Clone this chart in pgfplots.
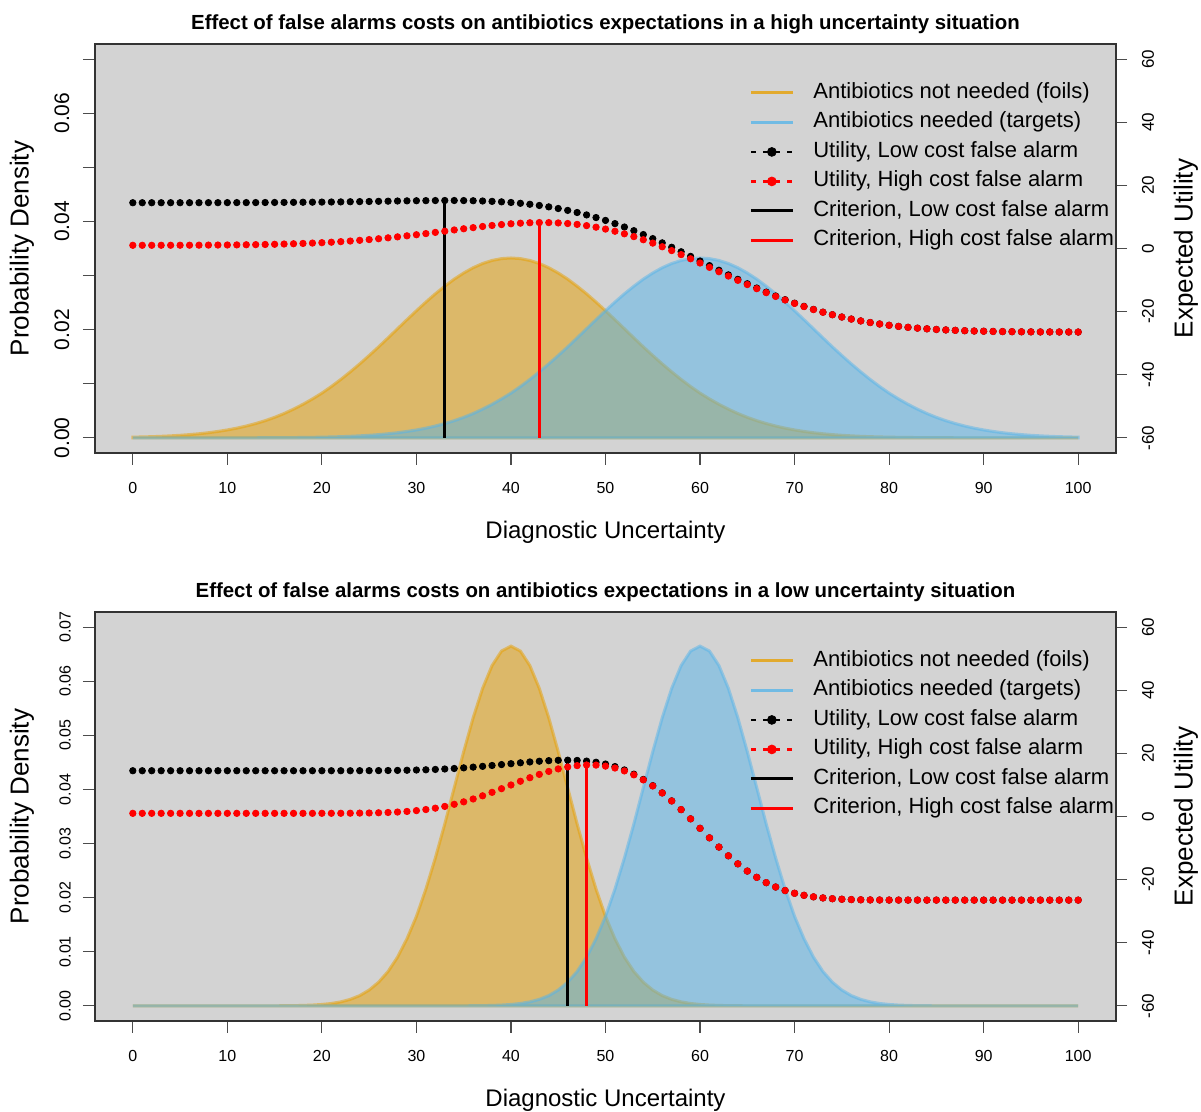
\documentclass[border=0pt]{standalone}
\usepackage{pgfplots}
\pgfplotsset{compat=1.18}
\usepackage{pgfplotstable}
\usepackage{fontspec}
\setmainfont{Liberation Sans}
\definecolor{bggray}{HTML}{D3D3D3}
\definecolor{foil}{HTML}{E69F00}
\definecolor{targ}{HTML}{56B4E9}
\definecolor{ured}{HTML}{FF0000}

% x: diagnostic uncertainty; ft/tt: densities (high uncertainty), fb/tb: densities (low uncertainty)
% rt/bt: utility high/low cost (top), rb/bb: utility high/low cost (bottom)
\pgfplotstableread{
x ft tt fb tb rt bt rb bb
0 0.000128 0 0 0 1.01 14.50 1.00 14.50
1 0.000169 0 0 0 1.01 14.50 1.00 14.50
2 0.000219 0 0 0 1.01 14.50 1.00 14.50
3 0.000284 0 0 0 1.02 14.50 1.00 14.50
4 0.000369 0 0 0 1.02 14.51 1.00 14.50
5 0.000471 0.000001 0 0 1.03 14.51 1.00 14.50
6 0.000600 0.000001 0 0 1.04 14.51 1.00 14.50
7 0.000758 0.000002 0 0 1.05 14.51 1.00 14.50
8 0.000948 0.000003 0 0 1.07 14.52 1.00 14.50
9 0.001182 0.000004 0 0 1.09 14.52 1.00 14.50
10 0.001461 0.000006 0 0 1.11 14.53 1.00 14.50
11 0.001792 0.000008 0 0 1.14 14.54 1.00 14.50
12 0.002185 0.000011 0 0 1.18 14.54 1.00 14.50
13 0.002645 0.000015 0 0 1.22 14.55 1.00 14.50
14 0.003173 0.000021 0.000005 0 1.27 14.57 1.00 14.50
15 0.003790 0.000029 0.000011 0 1.33 14.58 1.00 14.50
16 0.004499 0.000039 0.000022 0 1.41 14.60 1.00 14.50
17 0.005306 0.000054 0.000042 0 1.50 14.62 1.00 14.50
18 0.006203 0.000073 0.000080 0 1.60 14.65 1.00 14.50
19 0.007190 0.000097 0.000145 0 1.71 14.67 1.00 14.50
20 0.008268 0.000128 0.000257 0 1.84 14.70 1.01 14.50
21 0.009484 0.000169 0.000438 0 1.99 14.73 1.01 14.50
22 0.010793 0.000219 0.000738 0 2.17 14.76 1.02 14.50
23 0.012196 0.000284 0.001200 0 2.36 14.81 1.04 14.50
24 0.013668 0.000369 0.001895 0 2.58 14.85 1.07 14.52
25 0.015221 0.000471 0.002922 0 2.82 14.89 1.11 14.53
26 0.016814 0.000600 0.004370 0 3.09 14.94 1.18 14.54
27 0.018479 0.000758 0.006347 0 3.37 14.99 1.27 14.57
28 0.020164 0.000948 0.008998 0 3.68 15.04 1.41 14.60
29 0.021844 0.001182 0.012405 0 4.01 15.09 1.60 14.65
30 0.023493 0.001461 0.016537 0 4.36 15.13 1.86 14.72
31 0.025095 0.001792 0.021587 0 4.72 15.16 2.20 14.80
32 0.026621 0.002185 0.027335 0 5.10 15.19 2.64 14.91
33 0.028029 0.002645 0.033628 0 5.48 15.20 3.19 15.05
34 0.029339 0.003173 0.040328 0.000005 5.87 15.20 3.86 15.21
35 0.030473 0.003790 0.046985 0.000011 6.25 15.18 4.64 15.41
36 0.031448 0.004499 0.053242 0.000022 6.61 15.13 5.55 15.64
37 0.032223 0.005306 0.058678 0.000042 6.97 15.05 6.55 15.89
38 0.032788 0.006203 0.062897 0.000080 7.29 14.93 7.65 16.16
39 0.033130 0.007190 0.065577 0.000145 7.58 14.78 8.81 16.45
40 0.033245 0.008268 0.066490 0.000257 7.83 14.58 9.98 16.73
41 0.033130 0.009484 0.065577 0.000438 8.02 14.32 11.16 17.01
42 0.032788 0.010793 0.062897 0.000738 8.15 14.01 12.29 17.28
43 0.032223 0.012196 0.058678 0.001200 8.21 13.63 13.34 17.51
44 0.031448 0.013668 0.053242 0.001895 8.20 13.19 14.28 17.69
45 0.030473 0.015221 0.046985 0.002922 8.10 12.67 15.08 17.81
46 0.029339 0.016814 0.040328 0.004370 7.91 12.07 15.70 17.84
47 0.028029 0.018479 0.033628 0.006347 7.63 11.40 16.12 17.77
48 0.026621 0.020164 0.027335 0.008998 7.24 10.64 16.32 17.55
49 0.025095 0.021844 0.021587 0.012405 6.75 9.80 16.28 17.18
50 0.023493 0.023493 0.016537 0.016537 6.15 8.89 15.96 16.61
51 0.021844 0.025095 0.012405 0.021587 5.46 7.88 15.36 15.81
52 0.020164 0.026621 0.008998 0.027335 4.65 6.80 14.44 14.75
53 0.018479 0.028029 0.006347 0.033628 3.76 5.64 13.19 13.40
54 0.016814 0.029339 0.004370 0.040328 2.77 4.41 11.60 11.74
55 0.015221 0.030473 0.002922 0.046985 1.70 3.13 9.68 9.77
56 0.013668 0.031448 0.001895 0.053242 0.55 1.78 7.44 7.49
57 0.012196 0.032223 0.001200 0.058678 -0.67 0.39 4.92 4.95
58 0.010793 0.032788 0.000738 0.062897 -1.94 -1.04 2.17 2.18
59 0.009484 0.033130 0.000438 0.065577 -3.26 -2.50 -0.75 -0.74
60 0.008268 0.033245 0.000257 0.066490 -4.61 -3.97 -3.75 -3.75
61 0.007190 0.033130 0.000145 0.065577 -5.98 -5.44 -6.76 -6.76
62 0.006203 0.032788 0.000080 0.062897 -7.36 -6.91 -9.69 -9.69
63 0.005306 0.032223 0.000042 0.058678 -8.74 -8.36 -12.46 -12.46
64 0.004499 0.031448 0.000022 0.053242 -10.10 -9.79 -15.01 -15.01
65 0.003790 0.030473 0.000011 0.046985 -11.43 -11.18 -17.30 -17.30
66 0.003173 0.029339 0.000005 0.040328 -12.73 -12.53 -19.28 -19.28
67 0.002645 0.028029 0 0.033628 -13.99 -13.83 -20.96 -20.96
68 0.002185 0.026621 0 0.027335 -15.19 -15.05 -22.35 -22.35
69 0.001792 0.025095 0 0.021587 -16.33 -16.23 -23.46 -23.46
70 0.001461 0.023493 0 0.016537 -17.41 -17.33 -24.33 -24.33
71 0.001182 0.021844 0 0.012405 -18.41 -18.34 -24.98 -24.98
72 0.000948 0.020164 0 0.008998 -19.35 -19.30 -25.46 -25.46
73 0.000758 0.018479 0 0.006347 -20.21 -20.17 -25.81 -25.81
74 0.000600 0.016814 0 0.004370 -21.00 -20.97 -26.05 -26.05
75 0.000471 0.015221 0 0.002922 -21.73 -21.71 -26.22 -26.22
76 0.000369 0.013668 0 0.001895 -22.37 -22.36 -26.33 -26.33
77 0.000284 0.012196 0 0.001200 -22.96 -22.95 -26.40 -26.40
78 0.000219 0.010793 0 0.000738 -23.47 -23.46 -26.44 -26.44
79 0.000169 0.009484 0 0.000438 -23.93 -23.92 -26.46 -26.46
80 0.000128 0.008268 0 0.000257 -24.34 -24.33 -26.48 -26.48
81 0.000097 0.007190 0 0.000145 -24.68 -24.68 -26.49 -26.49
82 0.000073 0.006203 0 0.000080 -24.98 -24.98 -26.49 -26.49
83 0.000054 0.005306 0 0.000042 -25.24 -25.24 -26.49 -26.49
84 0.000039 0.004499 0 0.000022 -25.46 -25.46 -26.50 -26.50
85 0.000029 0.003790 0 0.000011 -25.65 -25.65 -26.50 -26.50
86 0.000021 0.003173 0 0.000005 -25.81 -25.81 -26.50 -26.50
87 0.000015 0.002645 0 0 -25.94 -25.94 -26.50 -26.50
88 0.000011 0.002185 0 0 -26.05 -26.05 -26.50 -26.50
89 0.000008 0.001792 0 0 -26.15 -26.15 -26.50 -26.50
90 0.000006 0.001461 0 0 -26.22 -26.22 -26.50 -26.50
91 0.000004 0.001182 0 0 -26.28 -26.28 -26.50 -26.50
92 0.000003 0.000948 0 0 -26.33 -26.33 -26.50 -26.50
93 0.000002 0.000758 0 0 -26.36 -26.36 -26.50 -26.50
94 0.000001 0.000600 0 0 -26.40 -26.40 -26.50 -26.50
95 0.000001 0.000471 0 0 -26.42 -26.42 -26.50 -26.50
96 0 0.000369 0 0 -26.44 -26.44 -26.50 -26.50
97 0 0.000284 0 0 -26.45 -26.45 -26.50 -26.50
98 0 0.000219 0 0 -26.46 -26.46 -26.50 -26.50
99 0 0.000169 0 0 -26.47 -26.47 -26.50 -26.50
100 0 0.000128 0 0 -26.48 -26.48 -26.50 -26.50
}\data

\pgfplotsset{
  panelbase/.style={
    scale only axis, width=510.5pt, height=204.5pt,
    xmin=-4, xmax=104, anchor=south west,
    axis line style={line width=0.6pt, draw=black!80},
    tick style={line width=0.6pt, draw=black!70},
    tick align=outside,
  },
  denaxis/.style={
    panelbase,
    axis background/.style={fill=bggray},
    ymin=-0.0028, ymax=0.0728,
    scaled y ticks=false,
    xtick pos=bottom, ytick pos=left,
    xtick={0,10,20,30,40,50,60,70,80,90,100},
    xticklabels={0,10,20,30,40,50,60,70,80,90,100},
    xticklabel style={font=\fontsize{8}{9}\selectfont, anchor=center, yshift=-11.5pt},
    major tick length=6pt,
    ytick={0,0.01,0.02,0.03,0.04,0.05,0.06,0.07},
    ylabel={Probability Density},
    ylabel style={font=\fontsize{13}{15}\selectfont, at={(axis description cs:0,0.5)}, anchor=center, yshift=36.5pt},
    xlabel={Diagnostic Uncertainty},
    xlabel style={font=\fontsize{12}{14}\selectfont, at={(axis description cs:0.5,0)}, anchor=center, yshift=-39.5pt},
    title style={font=\bfseries\fontsize{10.2}{12}\selectfont, at={(axis description cs:0.5,1)}, anchor=center, yshift=4pt},
  },
  utilaxis/.style={
    panelbase,
    ymin=-64.8, ymax=64.8,
    axis x line=none, axis y line*=right,
    ytick={-60,-40,-20,0,20,40,60},
    yticklabels={-60,-40,-20,0,20,40,60},
    yticklabel style={xshift=10.5pt, rotate=90, anchor=center, font=\fontsize{8.5}{10}\selectfont},
    major tick length=5.5pt,
    ylabel={Expected Utility},
    ylabel style={font=\fontsize{13}{15}\selectfont, at={(axis description cs:1,0.5)}, anchor=center, yshift=-35pt},
    legend cell align=left,
    legend style={at={(axis description cs:0.6405,0.907)}, anchor=north west, draw=none, fill=none,
      font=\fontsize{11}{13}\selectfont, row sep=4.25pt, inner sep=0pt,
      nodes={inner sep=0pt, text height=8pt, text depth=2.5pt},
      /tikz/every odd column/.append style={column sep=9.5pt}},
  },
  legfoil/.style={legend image code/.code={\draw[foil!78!bggray, line width=1.5pt] (0pt,0pt) -- (21pt,0pt);}},
  legtarg/.style={legend image code/.code={\draw[targ!78!bggray, line width=1.5pt] (0pt,0pt) -- (21pt,0pt);}},
  legdot/.style={legend image code/.code={
      \draw[#1, line width=1.2pt, dash pattern=on 2.6pt off 3.4pt, dash phase=-0.2pt] (0pt,0pt) -- (21pt,0pt);
      \fill[#1] (10.5pt,0pt) circle (2.2pt);}},
  legline/.style={legend image code/.code={\draw[#1, line width=1.5pt] (0pt,0pt) -- (21pt,0pt);}},
}

\begin{document}
\begin{tikzpicture}
\useasboundingbox (-47.5pt,-45.5pt) rectangle (553pt,510.5pt);

% ---------- TOP PANEL ----------
\begin{axis}[denaxis, at={(0pt,284pt)},
  yticklabels={0.00,{},0.02,{},0.04,{},0.06,{}},
  yticklabel style={xshift=-10.5pt, rotate=90, anchor=center, font=\fontsize{10.5}{12}\selectfont},
  title={Effect of false alarms costs on antibiotics expectations in a high uncertainty situation}]
\addplot[draw=foil, fill=foil, opacity=0.5, line width=1.5pt] table[x=x,y=ft]{\data} \closedcycle;
\addplot[draw=targ, fill=targ, opacity=0.5, line width=1.5pt] table[x=x,y=tt]{\data} \closedcycle;
\end{axis}
\begin{axis}[utilaxis, at={(0pt,284pt)}]
\addlegendimage{legfoil}\addlegendentry{Antibiotics not needed (foils)}
\addlegendimage{legtarg}\addlegendentry{Antibiotics needed (targets)}
\addlegendimage{legdot=black}\addlegendentry{Utility, Low cost false alarm}
\addlegendimage{legdot=ured}\addlegendentry{Utility, High cost false alarm}
\addlegendimage{legline=black}\addlegendentry{Criterion, Low cost false alarm}
\addlegendimage{legline=ured}\addlegendentry{Criterion, High cost false alarm}
\addplot[forget plot, only marks, mark=*, mark size=1.6pt, black] table[x=x,y=bt]{\data};
\addplot[forget plot, only marks, mark=*, mark size=1.6pt, ured] table[x=x,y=rt]{\data};
\addplot[forget plot, black, line width=1.5pt] coordinates {(33,-60) (33,15.20)};
\addplot[forget plot, ured, line width=1.5pt] coordinates {(43,-60) (43,8.21)};
\end{axis}

% ---------- BOTTOM PANEL ----------
\begin{axis}[denaxis, at={(0pt,0pt)},
  yticklabels={0.00,0.01,0.02,0.03,0.04,0.05,0.06,0.07},
  yticklabel style={xshift=-9pt, rotate=90, anchor=center, font=\fontsize{8}{9}\selectfont},
  title={Effect of false alarms costs on antibiotics expectations in a low uncertainty situation}]
\addplot[draw=foil, fill=foil, opacity=0.5, line width=1.5pt] table[x=x,y=fb]{\data} \closedcycle;
\addplot[draw=targ, fill=targ, opacity=0.5, line width=1.5pt] table[x=x,y=tb]{\data} \closedcycle;
\end{axis}
\begin{axis}[utilaxis, at={(0pt,0pt)}]
\addlegendimage{legfoil}\addlegendentry{Antibiotics not needed (foils)}
\addlegendimage{legtarg}\addlegendentry{Antibiotics needed (targets)}
\addlegendimage{legdot=black}\addlegendentry{Utility, Low cost false alarm}
\addlegendimage{legdot=ured}\addlegendentry{Utility, High cost false alarm}
\addlegendimage{legline=black}\addlegendentry{Criterion, Low cost false alarm}
\addlegendimage{legline=ured}\addlegendentry{Criterion, High cost false alarm}
\addplot[forget plot, only marks, mark=*, mark size=1.6pt, black] table[x=x,y=bb]{\data};
\addplot[forget plot, only marks, mark=*, mark size=1.6pt, ured] table[x=x,y=rb]{\data};
\addplot[forget plot, black, line width=1.5pt] coordinates {(46,-60) (46,17.84)};
\addplot[forget plot, ured, line width=1.5pt] coordinates {(48,-60) (48,16.32)};
\end{axis}
\end{tikzpicture}
\end{document}
